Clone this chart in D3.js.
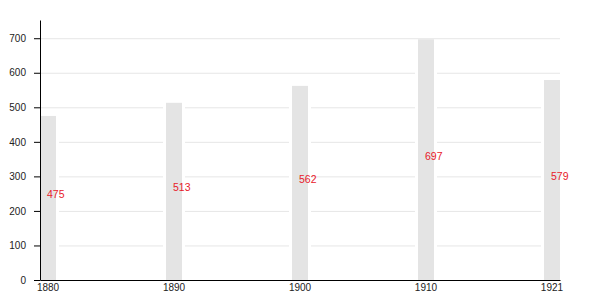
<!DOCTYPE html>
<html>
<head>
<meta charset="utf-8">
<script src="https://cdn.jsdelivr.net/npm/d3@7"></script>
<style>
  body { margin: 0; background: #fff; }
  svg { display: block; font-family: "Liberation Sans", Arial, sans-serif; }
</style>
</head>
<body>
<div id="chart"></div>
<script>
const years = ["1880", "1890", "1900", "1910", "1921"];
const population = [475, 513, 562, 697, 579];
const yTicks = [0, 100, 200, 300, 400, 500, 600, 700];

const width = 600, height = 300;
const margin = { top: 20, right: 40, bottom: 20, left: 40 };

const svg = d3.select("#chart").append("svg")
    .attr("width", width)
    .attr("height", height);

const x = d3.scaleBand()
    .domain(years)
    .range([margin.left, width - margin.right])
    .paddingInner(0.873)
    .paddingOuter(0);

const y = d3.scaleLinear()
    .domain([0, d3.max(population) * 1.08])
    .range([height - margin.bottom, margin.top]);

// grid lines
svg.append("g")
    .selectAll("line")
    .data(yTicks.slice(1))
    .enter().append("line")
    .attr("x1", margin.left)
    .attr("x2", width - margin.right)
    .attr("y1", d => y(d) + 0.5)
    .attr("y2", d => y(d) + 0.5)
    .attr("stroke", "#e6e6e6")
    .attr("stroke-width", 1);

const data = years.map((yr, i) => ({ year: yr, value: population[i] }));

// white halo behind bars
svg.append("g")
    .selectAll("rect")
    .data(data)
    .enter().append("rect")
    .attr("x", d => x(d.year) - 3)
    .attr("y", d => y(d.value) + 1)
    .attr("width", x.bandwidth() + 6)
    .attr("height", d => y(0) - y(d.value) - 1)
    .attr("fill", "#fff");

svg.append("g")
    .selectAll("rect")
    .data(data)
    .enter().append("rect")
    .attr("x", d => x(d.year))
    .attr("y", d => y(d.value))
    .attr("width", x.bandwidth())
    .attr("height", d => y(0) - y(d.value))
    .attr("fill", "#e4e4e4");

svg.append("g")
    .selectAll("text")
    .data(data)
    .enter().append("text")
    .attr("x", d => x(d.year) + x.bandwidth() / 2 - 1)
    .attr("y", d => y(d.value / 2))
    .attr("fill", "#e8202a")
    .attr("font-size", 10.5)
    .text(d => d.value);

const yAxis = svg.append("g")
    .attr("transform", `translate(${margin.left},0)`)
    .call(d3.axisLeft(y).tickValues(yTicks).tickSizeOuter(0).tickPadding(8));

const xAxis = svg.append("g")
    .attr("transform", `translate(0,${height - margin.bottom})`)
    .call(d3.axisBottom(x).tickSize(0).tickPadding(4));

svg.selectAll(".tick text").attr("fill", "#222").attr("font-size", 10);
</script>
</body>
</html>
